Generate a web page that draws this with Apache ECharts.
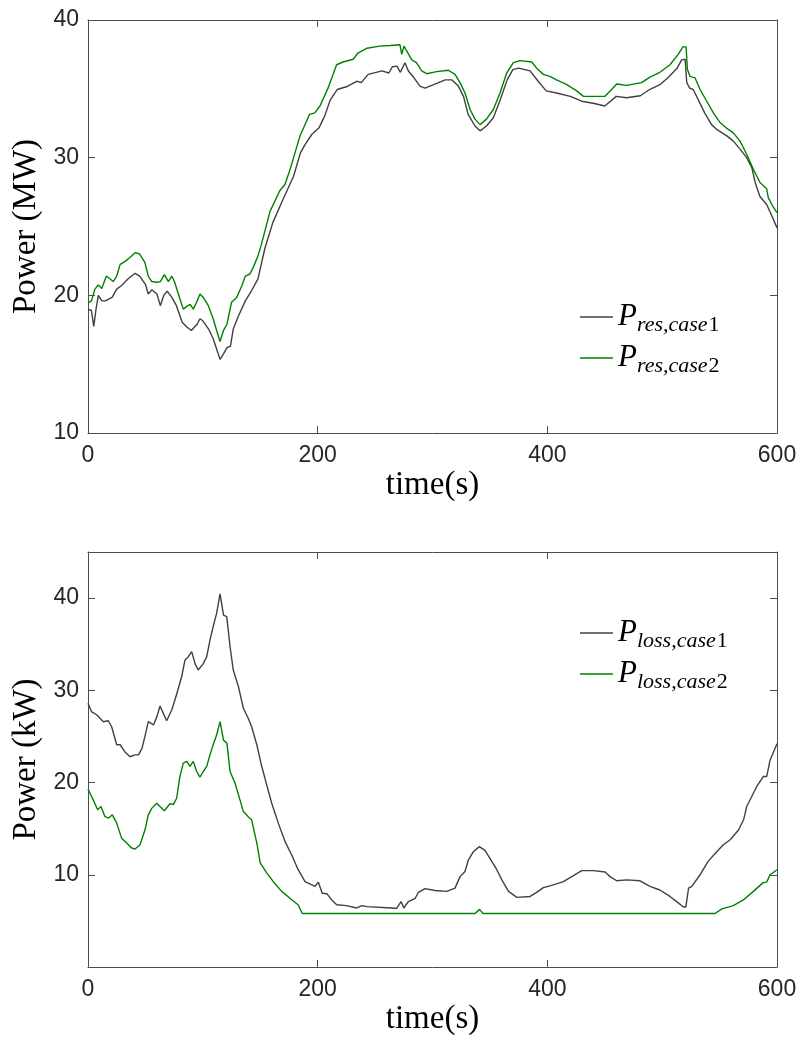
<!DOCTYPE html>
<html>
<head>
<meta charset="utf-8">
<script src="https://cdn.jsdelivr.net/npm/echarts@6.0.0/dist/echarts.min.js"></script>
<style>
  html, body { margin: 0; padding: 0; background: #ffffff; }
  #chart { width: 800px; height: 1042px; }
</style>
</head>
<body>
<div id="chart"></div>
<script>
// Reserve power (MW), case 1
const resTime1 = [0,3,5,7,9,12,15,21,25,29,35,41,45,50,52.5,55.5,60,63,66,69,73,77,82,86,90,95,97.5,100,105,109,112,115,118,121,124,126.5,131,137,142.5,148,154,161,170,179,185,189,195,201,206,211,217,225,234,238,244,256,262,265,269,272,276,279,283,289,293.5,301,311,317,322.5,327,331,337,341.4,347,353,359,365,370,375,385,392,399,408,420,430,440,450,460,469,481,489,498,505,513,517,520,521.4,524,527,531.5,537,543,547.5,556,562,568,573.6,578,581,585,591,595.4,600];
const resCase1 = [19.0,18.9,17.75,19.0,20.0,19.6,19.6,19.85,20.45,20.7,21.2,21.6,21.4,20.8,20.1,20.4,20.1,19.25,20.0,20.3,19.85,19.25,18.05,17.7,17.45,17.9,18.3,18.15,17.55,16.85,16.1,15.35,15.75,16.2,16.3,17.55,18.5,19.6,20.35,21.2,23.4,25.3,27.0,28.65,30.35,30.95,31.7,32.15,33.0,34.2,34.95,35.15,35.55,35.45,36.05,36.3,36.15,36.6,36.65,36.2,36.9,36.3,35.9,35.2,35.05,35.3,35.65,35.65,35.2,34.45,33.15,32.3,31.95,32.3,32.9,34.2,35.65,36.4,36.5,36.3,35.55,34.85,34.7,34.45,34.1,33.95,33.75,34.45,34.35,34.5,34.95,35.3,35.8,36.5,37.1,37.15,35.45,35.05,34.95,34.2,33.25,32.4,32.05,31.6,31.2,30.6,30.0,29.3,28.2,27.2,26.6,25.8,24.9];

// Reserve power (MW), case 2
const resTime2 = [0,3,6,9,12,16,19,22,25,28,32,36.5,41,45,49.5,52.5,55.5,60,63,66.5,70,73,75.5,80,83,86,89,91.7,94.6,97.5,100.4,104.8,109,112,115,118,121,125,129.5,134,137,141,144,148,151,158.5,167,171.5,176,184.5,193,197.5,202,209,216.5,222,231,235,243,254,263,271.7,273.2,275.2,277.5,282,286,290.6,295,303.7,313.8,319.6,324,328.3,332.7,337,341.4,347,353,358.8,364.6,370.4,376.2,386.4,390.7,396.5,402.3,408,417,425.6,431.4,437,450,456,460.4,469,482,489.4,498,506.8,514,518,520.8,522,524.3,528.6,533,538.8,544.6,550.4,556,562,567.8,573.6,579.4,585.2,591,592.4,596.8,600];
const resCase2 = [19.45,19.6,20.45,20.75,20.5,21.4,21.2,21.0,21.4,22.25,22.45,22.75,23.1,23.0,22.4,21.4,21.0,20.95,21.0,21.5,21.0,21.4,20.95,19.75,19.0,19.2,19.35,19.0,19.5,20.1,19.85,19.25,18.3,17.45,16.65,17.45,17.9,19.5,19.85,20.7,21.4,21.55,22.05,22.85,23.7,26.1,27.6,28.05,29.15,31.55,33.15,33.25,33.75,35.05,36.75,36.95,37.15,37.6,37.95,38.1,38.15,38.2,37.5,38.1,37.75,37.1,36.9,36.3,36.1,36.25,36.35,36.05,35.45,34.7,33.5,32.8,32.4,32.8,33.5,34.7,36.15,36.9,37.05,36.95,36.5,36.05,35.9,35.65,35.3,34.85,34.45,34.45,34.45,34.95,35.35,35.25,35.45,35.85,36.2,36.75,37.5,38.05,38.05,36.4,35.9,35.8,34.95,34.1,33.25,32.55,32.15,31.8,31.2,30.25,29.15,28.2,27.75,27.1,26.4,26.0];

// Power loss (kW), case 1
const lossTime1 = [0,3,7.5,13.4,17.7,20.6,25,28,32,36.6,41,44,47,49.6,52.5,57,60,62.7,65.6,68.5,73,77,81.6,84.5,87.4,90.3,93.2,96,100.4,103.4,106.2,109,112,115,118,120.8,123.7,126.5,131,135.3,139.6,142.5,147,151,155.6,160,165.7,171.6,177.4,183,189,197.7,200.6,204,208,212,216.6,225,234,238.4,243,264.5,268.8,272.6,275,279,285,287.7,293.5,302,312.4,319.6,324,328.3,331.2,335.6,340.8,345.7,351.6,356,360.4,366.2,373.5,385,390.7,396.5,402.3,414,422.7,430,440,450.3,454.6,460.4,469,480.7,489.4,498,506.8,514,518.5,520.6,523,525.8,533,540,547.5,553.3,559.2,566.5,571,573.6,582.3,588,591,594,600];
const lossCase1 = [28.6,27.7,27.35,26.6,26.7,26.05,24.1,24.1,23.35,22.8,23.0,23.0,23.7,25.0,26.6,26.25,27.15,28.3,27.5,26.7,27.9,29.5,31.5,33.3,33.65,34.2,32.9,32.2,32.9,33.65,35.45,36.9,38.35,40.45,38.15,38.0,34.75,32.2,30.4,28.05,26.95,26.05,24.1,21.9,19.75,17.75,15.6,13.6,12.15,10.55,9.25,8.75,9.2,8.0,7.95,7.3,6.75,6.65,6.4,6.65,6.55,6.4,6.35,7.1,6.4,7.1,7.45,8.1,8.5,8.3,8.2,8.55,9.8,10.35,11.6,12.5,13.05,12.65,11.45,10.55,9.45,8.2,7.55,7.65,8.1,8.6,8.8,9.25,9.9,10.45,10.45,10.3,9.8,9.35,9.45,9.35,8.75,8.35,7.65,6.95,6.5,6.5,8.55,8.75,10.0,11.45,12.5,13.25,13.8,14.85,16.0,17.4,19.55,20.65,20.65,22.45,24.2];

// Power loss (kW), case 2
const lossTime2 = [0,4.6,8.4,11.3,14.8,18,21.2,25,29.3,33.7,38,41,45.3,49.6,52.5,55.5,59.8,62.7,66.5,71.4,74.3,77.2,80,83,86,88.8,91.7,94.6,97.5,100.4,103.4,106.2,109,112,115,118,121,123.7,128,132.4,135.3,139.6,142.5,147,150,155.6,161.4,168.7,177.4,183,186.6,337,341,344,546,552,562,571,579.4,588,591,594,600];
const lossCase2 = [19.3,18.1,17.05,17.4,16.3,16.15,16.5,15.6,13.95,13.45,12.9,12.8,13.25,14.85,16.5,17.2,17.75,17.4,16.95,17.7,17.6,18.3,20.65,22.1,22.3,21.75,22.3,21.2,20.6,21.2,21.75,23.0,24.1,25.15,26.6,24.6,24.25,21.2,19.95,18.1,16.85,16.3,15.95,13.45,11.3,10.2,9.25,8.2,7.3,6.75,5.8,5.8,6.25,5.8,5.8,6.3,6.65,7.3,8.2,9.15,9.2,10.0,10.55];

// Axis ranges and tick labels
const timeTicks = [0, 200, 400, 600];
const resTicks = [10, 20, 30, 40];
const lossTicks = [10, 20, 30, 40];

const GRAY = '#404040';
const GREEN = '#008000';
const AXIS = '#4d4d4d';
const TICK_TEXT = '#262626';
const SERIF = '"Liberation Serif", "DejaVu Serif", serif';
const SANS = '"Liberation Sans", Arial, sans-serif';

const pairs = (ts, vs) => ts.map((t, i) => [t, vs[i]]);

function xAxisFor(gridIndex, position, showLabels) {
  return {
    type: 'value', gridIndex, position,
    min: timeTicks[0], max: timeTicks[timeTicks.length - 1],
    interval: timeTicks[1] - timeTicks[0],
    name: showLabels ? 'time(s)' : '',
    nameLocation: 'middle', nameGap: 36,
    nameTextStyle: { fontFamily: SERIF, fontSize: 33, color: '#000' },
    axisLine: { show: true, onZero: false, lineStyle: { color: AXIS, width: 1 } },
    axisTick: { show: true, inside: true, length: 7, lineStyle: { color: AXIS, width: 1 } },
    axisLabel: { show: showLabels, margin: 11, fontFamily: SANS, fontSize: 23, color: TICK_TEXT },
    splitLine: { show: false }
  };
}

function yAxisFor(gridIndex, position, ticks, min, max, title) {
  const shown = new Set(ticks);
  return {
    type: 'value', gridIndex, position,
    min, max, interval: 10,
    name: title || '',
    nameLocation: 'middle', nameGap: 45,
    nameTextStyle: { fontFamily: SERIF, fontSize: 33, color: '#000' },
    axisLine: { show: true, onZero: false, lineStyle: { color: AXIS, width: 1 } },
    axisTick: { show: true, inside: true, length: 7, lineStyle: { color: AXIS, width: 1 } },
    axisLabel: {
      show: !!title, margin: 9, fontFamily: SANS, fontSize: 23, color: TICK_TEXT,
      showMinLabel: true, showMaxLabel: true,
      formatter: v => (shown.has(v) ? String(v) : '')
    },
    splitLine: { show: false }
  };
}

function lineSeries(name, data, color, xi, yi) {
  return {
    type: 'line', name, data, xAxisIndex: xi, yAxisIndex: yi,
    symbol: 'none', smooth: false,
    lineStyle: { color, width: 1.4 },
    itemStyle: { color }
  };
}

// Legend names look like "P_res,case1": italic base, italic subscript letters, upright digit
function legendFor(names, left, top) {
  return {
    data: names, orient: 'vertical', left, top, padding: 0,
    itemGap: 3, itemWidth: 33, itemHeight: 1.4, icon: 'rect',
    itemStyle: { borderWidth: 0 },
    selectedMode: false,
    formatter: n => {
      const [base, sub] = n.split('_');
      const m = sub.match(/^(.*?)(\d*)$/);
      return '{p|' + base + '}{s|' + m[1] + '}{d|' + m[2] + '}';
    },
    textStyle: {
      rich: {
        p: { fontFamily: SERIF, fontStyle: 'italic', fontSize: 31, lineHeight: 30, color: '#000' },
        s: { fontFamily: SERIF, fontStyle: 'italic', fontSize: 22, lineHeight: 21, padding: [16, 0, 0, 0], color: '#000' },
        d: { fontFamily: SERIF, fontStyle: 'normal', fontSize: 22, lineHeight: 21, padding: [16, 0, 0, 1], color: '#000' }
      }
    }
  };
}

const chart = echarts.init(document.getElementById('chart'), null, { renderer: 'canvas' });
chart.setOption({
  animation: false,
  backgroundColor: '#ffffff',
  grid: [
    { left: 88, top: 20, width: 689, height: 413, containLabel: false },
    { left: 88, top: 552, width: 689, height: 415, containLabel: false }
  ],
  xAxis: [
    xAxisFor(0, 'bottom', true),
    xAxisFor(0, 'top', false),
    xAxisFor(1, 'bottom', true),
    xAxisFor(1, 'top', false)
  ],
  yAxis: [
    yAxisFor(0, 'left', resTicks, 10, 40, 'Power (MW)'),
    yAxisFor(0, 'right', resTicks, 10, 40, ''),
    yAxisFor(1, 'left', lossTicks, 0, 45, 'Power (kW)'),
    yAxisFor(1, 'right', lossTicks, 0, 45, '')
  ],
  legend: [
    legendFor(['P_res,case1', 'P_res,case2'], 580, 298),
    legendFor(['P_loss,case1', 'P_loss,case2'], 580, 614)
  ],
  series: [
    lineSeries('P_res,case1', pairs(resTime1, resCase1), GRAY, 0, 0),
    lineSeries('P_res,case2', pairs(resTime2, resCase2), GREEN, 0, 0),
    lineSeries('P_loss,case1', pairs(lossTime1, lossCase1), GRAY, 2, 2),
    lineSeries('P_loss,case2', pairs(lossTime2, lossCase2), GREEN, 2, 2)
  ]
});
</script>
</body>
</html>
